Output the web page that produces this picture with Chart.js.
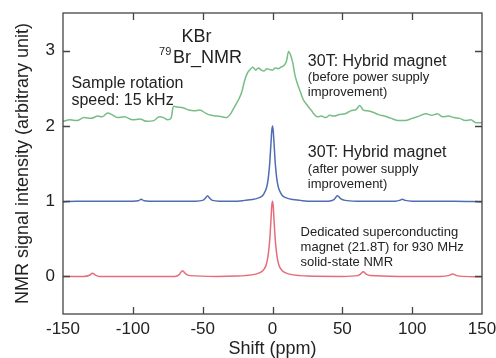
<!DOCTYPE html>
<html>
<head>
<meta charset="utf-8">
<script src="https://cdn.jsdelivr.net/npm/chart.js@4.4.1/dist/chart.umd.min.js"></script>
<style>
  html, body { margin: 0; padding: 0; background: #fff; }
  #wrap { width: 496px; height: 358px; position: relative; }
</style>
</head>
<body>
<div id="wrap"><canvas id="c" width="496" height="358"></canvas></div>
<script>
// ---- Data ----
const xTicks = [-150, -100, -50, 0, 50, 100, 150];
const yTicks = [0, 1, 2, 3];

// 30T hybrid magnet, before power supply improvement  [shift ppm, intensity]
const hybridBefore = [
  [-150,2.06],[-145,2.08],[-140,2.07],[-135,2.11],[-130,2.10],[-125,2.13],[-122,2.12],[-118,2.17],
  [-115,2.15],[-111,2.11],[-106,2.12],[-100,2.08],[-95,2.09],[-90,2.06],[-85,2.07],[-81,2.12],
  [-78,2.11],[-75,2.08],[-72.5,2.11],[-71,2.26],[-68,2.25],[-64,2.24],[-60,2.21],[-56,2.20],
  [-52,2.21],[-48,2.17],[-44,2.14],[-40,2.13],[-36,2.12],[-33,2.11],[-30,2.16],[-27,2.26],
  [-24,2.36],[-22,2.45],[-20,2.60],[-18,2.70],[-16,2.75],[-14,2.78],[-12,2.74],[-10,2.77],
  [-8,2.74],[-6,2.73],[-4,2.76],[-2,2.75],[0,2.74],[2,2.77],[4,2.76],[6,2.78],[8,2.80],
  [10,2.86],[11.5,2.99],[13,2.94],[14.5,2.84],[16,2.68],[18,2.55],[20,2.45],[22,2.35],
  [25,2.27],[28,2.20],[30,2.15],[32,2.12],[35,2.13],[38,2.11],[41,2.14],[44,2.13],[48,2.15],
  [52,2.16],[56,2.20],[60,2.22],[62.5,2.27],[65,2.21],[68,2.20],[72,2.18],[76,2.15],[80,2.13],
  [85,2.10],[90,2.07],[95,2.07],[100,2.10],[105,2.13],[110,2.16],[114,2.14],[118,2.16],
  [122,2.12],[126,2.13],[130,2.11],[134,2.10],[138,2.07],[142,2.08],[146,2.04],[150,2.04]
];

// 30T hybrid magnet, after power supply improvement
const hybridAfter = [
  [-150,0.99],[-140,1.0],[-120,1.0],[-100,1.0],[-96,1.005],[-94,1.025],[-92,1.005],[-88,1.0],
  [-70,1.0],[-55,1.0],[-50,1.01],[-48,1.04],[-46.5,1.07],[-45,1.04],[-43,1.01],[-38,1.0],
  [-25,1.0],[-20,1.01],[-12,1.03],[-9,1.05],[-7,1.075],[-5,1.14],[-4,1.2],[-3,1.31],[-2,1.5],
  [-1,1.8],[-0.5,1.94],[0,2.0],[0.5,1.94],[1,1.8],[2,1.5],[3,1.31],[4,1.2],[5,1.14],[7,1.075],
  [9,1.05],[12,1.03],[20,1.01],[25,1.0],[40,1.0],[44,1.02],[46.5,1.07],[49,1.03],[52,1.01],
  [60,1.0],[88,1.0],[91,1.01],[93,1.025],[95,1.01],[100,1.0],[130,1.0],[150,0.99]
];

// Dedicated superconducting magnet (21.8T), 930 MHz
const dedicated = [
  [-150,0.0],[-135,0.0],[-131,0.015],[-129,0.04],[-127,0.02],[-124,0.0],[-100,0.0],[-70,0.0],
  [-67,0.02],[-64.5,0.075],[-62,0.03],[-59,0.01],[-40,0.0],[-25,0.005],[-20,0.01],[-12,0.03],
  [-9,0.05],[-7,0.075],[-5,0.13],[-4,0.19],[-3,0.3],[-2,0.48],[-1,0.78],[-0.5,0.94],[0,1.0],
  [0.5,0.94],[1,0.78],[2,0.48],[3,0.3],[4,0.19],[5,0.13],[7,0.075],[9,0.05],[12,0.03],
  [20,0.01],[25,0.005],[50,0.0],[61,0.01],[63,0.03],[65,0.06],[67,0.03],[70,0.01],[90,0.0],
  [120,0.0],[126,0.01],[129,0.03],[132,0.01],[136,0.0],[150,-0.005]
];

// ---- Annotations (text, position in data units, font) ----
const notes = [
  { text: 'KBr', x: -65.2, y: 3.108, font: '18px "Liberation Sans", Arial, sans-serif' },
  { text: '79', x: -81.2, y: 2.944, font: '11px "Liberation Sans", Arial, sans-serif' },
  { text: 'Br_NMR', x: -71.2, y: 2.84, font: '18px "Liberation Sans", Arial, sans-serif' },
  { text: 'Sample rotation', x: -144, y: 2.50, font: '16px "Liberation Sans", Arial, sans-serif' },
  { text: 'speed: 15 kHz', x: -144, y: 2.28, font: '16px "Liberation Sans", Arial, sans-serif' },
  { text: '30T: Hybrid magnet', x: 25.3, y: 2.79, font: '16px "Liberation Sans", Arial, sans-serif' },
  { text: '(before power supply', x: 25.3, y: 2.60, font: '13px "Liberation Sans", Arial, sans-serif' },
  { text: 'improvement)', x: 25.3, y: 2.40, font: '13px "Liberation Sans", Arial, sans-serif' },
  { text: '30T: Hybrid magnet', x: 25.3, y: 1.58, font: '16px "Liberation Sans", Arial, sans-serif' },
  { text: '(after power supply', x: 25.3, y: 1.375, font: '13px "Liberation Sans", Arial, sans-serif' },
  { text: 'improvement)', x: 25.3, y: 1.175, font: '13px "Liberation Sans", Arial, sans-serif' },
  { text: 'Dedicated superconducting', x: 20.1, y: 0.535, font: '13px "Liberation Sans", Arial, sans-serif' },
  { text: 'magnet (21.8T) for 930 MHz', x: 20.1, y: 0.335, font: '13px "Liberation Sans", Arial, sans-serif' },
  { text: 'solid-state NMR', x: 20.1, y: 0.14, font: '13px "Liberation Sans", Arial, sans-serif' }
];

const toPts = arr => arr.map(p => ({ x: p[0], y: p[1] }));

const frame = {
  id: 'frame',
  afterDatasetsDraw(chart) {
    const { ctx, chartArea: a, scales } = chart;
    const xs = scales.x, ys = scales.y;
    ctx.save();
    ctx.fillStyle = '#222';
    ctx.textBaseline = 'alphabetic';
    ctx.textAlign = 'left';
    notes.forEach(n => {
      ctx.font = n.font;
      ctx.fillText(n.text, xs.getPixelForValue(n.x), ys.getPixelForValue(n.y));
    });
    ctx.strokeStyle = '#444';
    ctx.lineWidth = 1.3;
    ctx.strokeRect(a.left, a.top, a.right - a.left, a.bottom - a.top);
    const L = 7;
    ctx.beginPath();
    xTicks.forEach(v => {
      if (v === xs.min || v === xs.max) return;
      const px = Math.round(xs.getPixelForValue(v)) + 0.5;
      ctx.moveTo(px, a.bottom); ctx.lineTo(px, a.bottom - L);
      ctx.moveTo(px, a.top); ctx.lineTo(px, a.top + L);
    });
    yTicks.forEach(v => {
      const py = Math.round(ys.getPixelForValue(v)) + 0.5;
      ctx.moveTo(a.left, py); ctx.lineTo(a.left + L, py);
      ctx.moveTo(a.right, py); ctx.lineTo(a.right - L, py);
    });
    ctx.stroke();
    ctx.restore();
  }
};

const fontFam = '"Liberation Sans", Arial, sans-serif';
const common = { fill: false, pointRadius: 0, borderWidth: 1.5, cubicInterpolationMode: 'monotone' };

new Chart(document.getElementById('c'), {
  type: 'line',
  data: {
    datasets: [
      Object.assign({ label: '30T: Hybrid magnet (before power supply improvement)', data: toPts(hybridBefore), borderColor: '#78bd86' }, common),
      Object.assign({ label: '30T: Hybrid magnet (after power supply improvement)', data: toPts(hybridAfter), borderColor: '#4e6db3' }, common),
      Object.assign({ label: 'Dedicated superconducting magnet (21.8T) for 930 MHz solid-state NMR', data: toPts(dedicated), borderColor: '#e66c79' }, common)
    ]
  },
  options: {
    responsive: false,
    animation: false,
    devicePixelRatio: 1,
    layout: { padding: { top: 13, right: 14, left: 0, bottom: 0 } },
    plugins: { legend: { display: false }, tooltip: { enabled: false } },
    scales: {
      x: {
        type: 'linear', min: -150, max: 150,
        afterBuildTicks: s => { s.ticks = xTicks.map(v => ({ value: v })); },
        afterFit: s => { s.height = 44; s.paddingLeft = 0; s.paddingRight = 0; },
        grid: { display: false, drawTicks: false },
        border: { display: false },
        ticks: { color: '#222', font: { family: fontFam, size: 17 }, padding: 5, maxRotation: 0, autoSkip: false },
        title: { display: true, text: 'Shift (ppm)', color: '#222', font: { family: fontFam, size: 18, lineHeight: 1 }, padding: 0 }
      },
      y: {
        type: 'linear', min: -0.5, max: 3.5,
        afterBuildTicks: s => { s.ticks = yTicks.map(v => ({ value: v })); },
        afterFit: s => { s.width = 63; s.paddingTop = 0; s.paddingBottom = 0; },
        grid: { display: false, drawTicks: false },
        border: { display: false },
        ticks: { color: '#222', font: { family: fontFam, size: 17 }, padding: 8 },
        title: { display: true, text: 'NMR signal intensity (arbitrary unit)', color: '#222', font: { family: fontFam, size: 18 }, padding: { top: 12, bottom: 0 } }
      }
    }
  },
  plugins: [frame]
});
</script>
</body>
</html>
